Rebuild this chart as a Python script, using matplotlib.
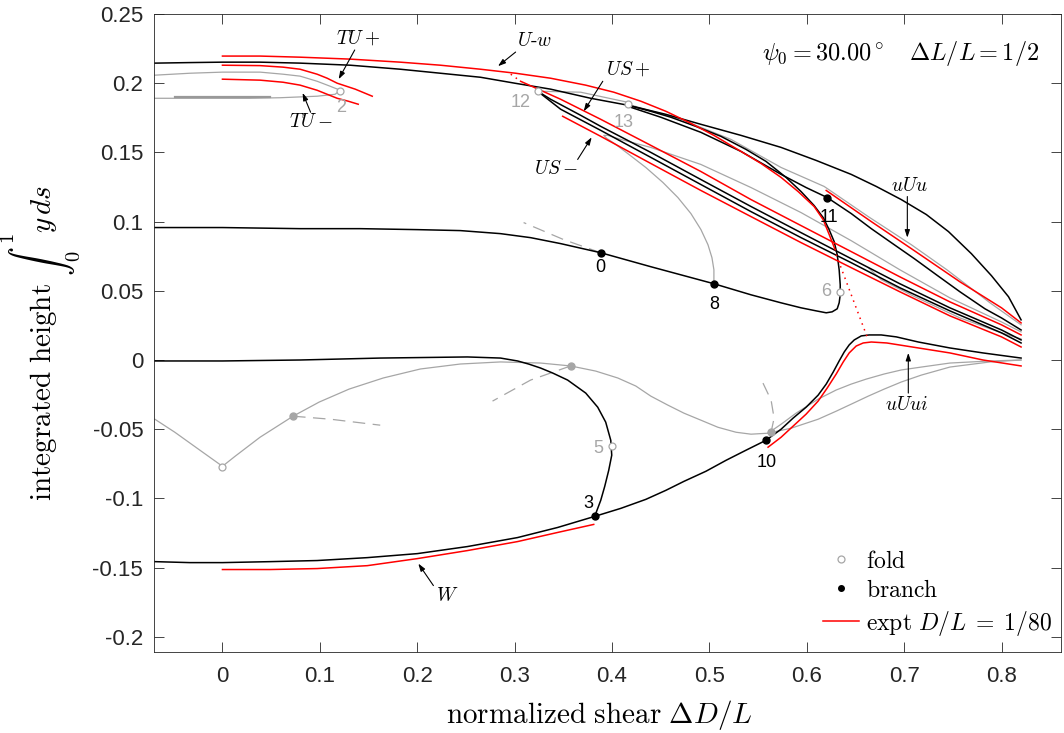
import matplotlib
matplotlib.use('Agg')
import matplotlib.pyplot as plt
from matplotlib.lines import Line2D

plt.rcParams['mathtext.fontset'] = 'cm'
plt.rcParams['axes.unicode_minus'] = False
plt.rcParams['font.family'] = ['Liberation Sans', 'DejaVu Sans']

# ---------------- solution branches: shear dD/L vs integrated height ----------------
# U-w branch (black) and its experiment (red)
uw_x = [-0.0694, -0.0334, 0, 0.0386, 0.0797, 0.1312, 0.1826, 0.2238, 0.2649, 0.3010, 0.3369,
        0.3781, 0.4162, 0.4553, 0.4912, 0.5324, 0.5736, 0.6096, 0.6456, 0.6713, 0.6970, 0.7227,
        0.7454, 0.7690, 0.7896, 0.8071, 0.82]
uw_y = [0.2145, 0.2149, 0.2152, 0.2152, 0.2145, 0.2130, 0.2101, 0.2072, 0.2043, 0.1999, 0.1957,
        0.1891, 0.1841, 0.1775, 0.1703, 0.1623, 0.1536, 0.1442, 0.1341, 0.1254, 0.1159, 0.1051,
        0.0928, 0.0768, 0.0609, 0.0457, 0.0290]
uw_ex_x = [0, 0.0386, 0.0797, 0.1312, 0.1826, 0.2238, 0.2649, 0.3010, 0.3369, 0.3729, 0.4018,
           0.4295, 0.4553, 0.4810, 0.5046, 0.5324, 0.5530, 0.5736, 0.5911, 0.6075, 0.6168, 0.6230, 0.6291]
uw_ex_y = [0.2196, 0.2196, 0.2188, 0.2174, 0.2152, 0.2130, 0.2101, 0.2072, 0.2036, 0.1986, 0.1935,
           0.1870, 0.1797, 0.1710, 0.1623, 0.1507, 0.1420, 0.1319, 0.1217, 0.1109, 0.1014, 0.0906, 0.0797]
uw_jump_x = [0.6301, 0.6631]
uw_jump_y = [0.0761, 0.0145]

# branch through points 0 and 8, looping back up to fold 13
b08_x = [-0.0694, 0, 0.0797, 0.1414, 0.2001, 0.2443, 0.2855, 0.3164, 0.3472, 0.3884, 0.4398,
         0.5046, 0.5427, 0.5736, 0.5941, 0.6096, 0.6199, 0.6260, 0.6312, 0.6332, 0.6343, 0.6343,
         0.6332, 0.6312, 0.6281, 0.6229, 0.6168, 0.6075, 0.5941, 0.5787, 0.5581, 0.5375, 0.5118,
         0.4861, 0.4604, 0.4398, 0.4162]
b08_y = [0.0957, 0.0957, 0.0949, 0.0949, 0.0942, 0.0935, 0.0913, 0.0884, 0.0841, 0.0775, 0.0674,
         0.0551, 0.0471, 0.0413, 0.0377, 0.0355, 0.0341, 0.0348, 0.0370, 0.0413, 0.0471, 0.0543,
         0.0652, 0.0761, 0.0855, 0.0942, 0.1029, 0.1116, 0.1217, 0.1319, 0.1435, 0.1522, 0.1616,
         0.1688, 0.1754, 0.1797, 0.1841]

# uUu branch: fold 13 -> point 11 -> end
uuu_x = [0.4162, 0.4501, 0.4912, 0.5324, 0.5736, 0.5993, 0.6209, 0.6456, 0.6662, 0.6867, 0.7104,
         0.7330, 0.7572, 0.7829, 0.7999, 0.82]
uuu_y = [0.1833, 0.1754, 0.1645, 0.1507, 0.1341, 0.1246, 0.1174, 0.1058, 0.0949, 0.0848, 0.0732,
         0.0616, 0.0493, 0.0370, 0.0304, 0.0217]
uuu_ex_x = [0.6199, 0.6662, 0.7089, 0.7572, 0.7999, 0.82]
uuu_ex_y = [0.1225, 0.1000, 0.0797, 0.0565, 0.0377, 0.0268]
uuu_gr_x = [0.4162, 0.4707, 0.5221, 0.5736, 0.6178, 0.6631, 0.7073, 0.7438, 0.7881, 0.82]
uuu_gr_y = [0.1848, 0.1739, 0.1594, 0.1391, 0.1254, 0.1036, 0.0833, 0.0652, 0.0413, 0.0254]
f12_13_x = [0.3236, 0.3678, 0.4162]
f12_13_y = [0.1942, 0.1935, 0.1862]

# US band
usp_ex_x = [0.3061, 0.3472, 0.3884, 0.4398, 0.4912, 0.5427, 0.5941, 0.6456, 0.6955, 0.7469, 0.7999, 0.82]
usp_ex_y = [0.2014, 0.1884, 0.1739, 0.1551, 0.1362, 0.1159, 0.0971, 0.0783, 0.0601, 0.0420, 0.0254, 0.0181]
usp_dot_x = [0.2960, 0.3061]
usp_dot_y = [0.2065, 0.2014]
usa_x = [0.3236, 0.3369, 0.3678, 0.3884, 0.4398, 0.4912, 0.5427, 0.5941, 0.6456, 0.6955, 0.7469, 0.7999, 0.82]
usa_y = [0.1942, 0.1884, 0.1768, 0.1688, 0.1500, 0.1304, 0.1109, 0.0920, 0.0732, 0.0551, 0.0377, 0.0217, 0.0145]
usb_x = [0.3236, 0.3472, 0.3884, 0.4398, 0.4912, 0.5427, 0.5941, 0.6456, 0.6955, 0.7469, 0.7999, 0.82]
usb_y = [0.1942, 0.1812, 0.1659, 0.1464, 0.1268, 0.1072, 0.0884, 0.0703, 0.0522, 0.0355, 0.0196, 0.0123]
usm_ex_x = [0.3493, 0.3884, 0.4398, 0.4912, 0.5427, 0.5941, 0.6456, 0.6955, 0.7469, 0.7999, 0.82]
usm_ex_y = [0.1761, 0.1616, 0.1420, 0.1225, 0.1036, 0.0848, 0.0667, 0.0493, 0.0319, 0.0167, 0.0094]
g8_x = [0.5046, 0.5046, 0.5026, 0.4985, 0.4913, 0.4810, 0.4676, 0.4522, 0.4347, 0.4172, 0.4038,
        0.3946, 0.3915, 0.3956, 0.4089, 0.4398, 0.4912, 0.5427, 0.5941, 0.6456, 0.6955, 0.7469,
        0.7999, 0.82]
g8_y = [0.0551, 0.0652, 0.0739, 0.0833, 0.0942, 0.1058, 0.1174, 0.1283, 0.1391, 0.1486, 0.1558,
        0.1601, 0.1623, 0.1623, 0.1594, 0.1536, 0.1413, 0.1246, 0.1065, 0.0862, 0.0652, 0.0449,
        0.0275, 0.0203]
glens_x = [0.6631, 0.6764, 0.7089, 0.7572, 0.7999, 0.82]
glens_y = [0.0667, 0.0580, 0.0464, 0.0304, 0.0196, 0.0152]

# TU loop near fold 2
tup_ex_x = [0, 0.0386, 0.0622, 0.0797, 0.0972, 0.1075, 0.1178, 0.1363, 0.1538]
tup_ex_y = [0.2130, 0.2127, 0.2116, 0.2101, 0.2065, 0.2036, 0.2000, 0.1957, 0.1906]
tum_ex_x = [0, 0.0386, 0.0622, 0.0797, 0.0972, 0.1075, 0.1178, 0.1291, 0.1394]
tum_ex_y = [0.2029, 0.2022, 0.2007, 0.1986, 0.1949, 0.1920, 0.1891, 0.1870, 0.1848]
tu_gr_x = [-0.0694, -0.0334, 0, 0.0386, 0.0622, 0.0797, 0.0972, 0.1106, 0.1209, 0.1157, 0.0972,
           0.0592, 0.0283, -0.0231, -0.0694]
tu_gr_y = [0.2058, 0.2072, 0.2080, 0.2080, 0.2065, 0.2051, 0.2014, 0.1978, 0.1949, 0.1920, 0.1906,
           0.1895, 0.1891, 0.1891, 0.1891]
tu_dark_x = [-0.0489, 0.0489]
tu_dark_y = [0.1897, 0.1897]

# near-zero branch curling down to point 3
z_x = [-0.0694, 0, 0.0797, 0.1620, 0.2515, 0.2855, 0.3030, 0.3143, 0.3266, 0.3390, 0.3544,
       0.3730, 0.3853, 0.3935, 0.3987, 0.3997, 0.3966, 0.3925, 0.3884, 0.3822]
z_y = [-0.0007, -0.0007, 0, 0.0014, 0.0022, 0.0014, -0.0007, -0.0029, -0.0058, -0.0094, -0.0145,
       -0.0239, -0.0341, -0.0449, -0.0580, -0.0688, -0.0797, -0.0913, -0.1014, -0.1130]

# W branch through 3 and 10, continuing as uUui
w_x = [-0.0694, -0.0334, 0, 0.0489, 0.0972, 0.1487, 0.2001, 0.2515, 0.3030, 0.3442, 0.3822,
       0.4090, 0.4347, 0.4552, 0.4738, 0.4964, 0.5170, 0.5375, 0.5581, 0.5736, 0.5859, 0.5993,
       0.6116, 0.6199, 0.6271, 0.6332, 0.6384, 0.6435, 0.6487, 0.6559, 0.6641, 0.6764, 0.6919,
       0.7145, 0.7469, 0.7809, 0.82]
w_y = [-0.1457, -0.1464, -0.1464, -0.1457, -0.1449, -0.1428, -0.1399, -0.1348, -0.1283, -0.1210, -0.1130,
       -0.1072, -0.1007, -0.0942, -0.0877, -0.0804, -0.0725, -0.0652, -0.0580, -0.0500, -0.0420, -0.0341,
       -0.0254, -0.0174, -0.0087, -0.0007, 0.0058, 0.0109, 0.0145, 0.0174, 0.0181, 0.0181, 0.0167,
       0.0130, 0.0087, 0.0051, 0.0014]
w_ex_x = [0, 0.0489, 0.0972, 0.1487, 0.2001, 0.2515, 0.3030, 0.3442, 0.3812]
w_ex_y = [-0.1514, -0.1514, -0.1507, -0.1486, -0.1435, -0.1377, -0.1312, -0.1246, -0.1188]
uuui_ex_x = [0.5602, 0.5736, 0.5859, 0.5993, 0.6116, 0.6209, 0.6302, 0.6374, 0.6435, 0.6507, 0.6579,
             0.6662, 0.6821, 0.7145, 0.7469, 0.7809, 0.82]
uuui_ex_y = [-0.0630, -0.0558, -0.0478, -0.0391, -0.0297, -0.0203, -0.0101, -0.0014, 0.0051, 0.0101, 0.0123,
             0.0130, 0.0123, 0.0087, 0.0051, 0.0, -0.0043]

# grey unstable branch along the bottom
gb_x = [-0.0694, -0.0489, -0.0231, 0, 0.0129, 0.0386, 0.0725, 0.0993, 0.1301, 0.1651, 0.2032,
        0.2443, 0.2855, 0.3266, 0.3575, 0.3832, 0.4059, 0.4244, 0.4398, 0.4573, 0.4738, 0.4913,
        0.5087, 0.5273, 0.5427, 0.5602]
gb_y = [-0.0428, -0.0522, -0.0652, -0.0768, -0.0696, -0.0558, -0.0406, -0.0304, -0.0210, -0.0130, -0.0065,
        -0.0029, -0.0014, -0.0022, -0.0043, -0.0080, -0.0130, -0.0188, -0.0261, -0.0326, -0.0384, -0.0435,
        -0.0486, -0.0522, -0.0536, -0.0529]
gbu_x = [0.5602, 0.5736, 0.5890, 0.6116, 0.6301, 0.6456, 0.6610, 0.6795, 0.6970, 0.7176, 0.7469, 0.7881, 0.82]
gbu_y = [-0.0529, -0.0464, -0.0384, -0.0283, -0.0217, -0.0174, -0.0138, -0.0101, -0.0072, -0.0051, -0.0022, -0.0007, 0.0]
gbl_x = [0.5602, 0.5838, 0.6116, 0.6301, 0.6456, 0.6631, 0.6795, 0.6970, 0.7176, 0.7469, 0.7881, 0.82]
gbl_y = [-0.0529, -0.0493, -0.0428, -0.0370, -0.0319, -0.0261, -0.0210, -0.0159, -0.0109, -0.0051, -0.0014, 0.0]

# dashed grey side branches
d1_x, d1_y = [0.0725, 0.1111, 0.1620], [-0.0406, -0.0428, -0.0471]
d2_x, d2_y = [0.3575, 0.3164, 0.2773], [-0.0043, -0.0145, -0.0297]
d3_x, d3_y = [0.5550, 0.5633, 0.5664, 0.5633], [-0.0167, -0.0290, -0.0420, -0.0522]
d4_x, d4_y = [0.3884, 0.3503, 0.3092], [0.0775, 0.0870, 0.0993]

# special points
fold_x = [0.1209, 0.3236, 0.4162, 0.6340, 0.3997, 0]
fold_y = [0.1942, 0.1942, 0.1848, 0.0493, -0.0623, -0.0775]
fold_lbl = ['2', '12', '13', '6', '5', '']
branch_x = [0.3884, 0.5046, 0.3822, 0.5581, 0.6209]
branch_y = [0.0775, 0.0551, -0.1130, -0.0580, 0.1174]
branch_lbl = ['0', '8', '3', '10', '11']
gdot_x = [0.0725, 0.3575, 0.5633]
gdot_y = [-0.0406, -0.0043, -0.0522]

BLACK = 'k'
RED = '#ff0000'
GREY = '#a6a6a6'
AXC = '#262626'

fig = plt.figure(figsize=(10.64, 7.33), dpi=100)
ax = fig.add_axes([0.1450, 0.1101, 0.8522, 0.8708])

# grey (unstable) curves
for xs, ys in [(uuu_gr_x, uuu_gr_y), (f12_13_x, f12_13_y), (g8_x, g8_y), (glens_x, glens_y),
               (tu_gr_x, tu_gr_y), (gb_x, gb_y), (gbu_x, gbu_y), (gbl_x, gbl_y)]:
    ax.plot(xs, ys, color=GREY, lw=0.9, zorder=1, solid_joinstyle='round')
ax.plot(tu_dark_x, tu_dark_y, color='#999999', lw=1.6, zorder=1)
for xs, ys in [(d1_x, d1_y), (d2_x, d2_y), (d3_x, d3_y), (d4_x, d4_y)]:
    ax.plot(xs, ys, color=GREY, lw=0.9, dashes=(10, 6), zorder=1)

# stable branches
for xs, ys in [(uw_x, uw_y), (b08_x, b08_y), (uuu_x, uuu_y), (usa_x, usa_y), (usb_x, usb_y),
               (z_x, z_y), (w_x, w_y)]:
    ax.plot(xs, ys, color=BLACK, lw=1.1, zorder=2, solid_joinstyle='round')

# experiments
for xs, ys in [(uw_ex_x, uw_ex_y), (uuu_ex_x, uuu_ex_y), (usp_ex_x, usp_ex_y), (usm_ex_x, usm_ex_y),
               (tup_ex_x, tup_ex_y), (tum_ex_x, tum_ex_y), (w_ex_x, w_ex_y), (uuui_ex_x, uuui_ex_y)]:
    ax.plot(xs, ys, color=RED, lw=1.1, zorder=3, solid_joinstyle='round')
ax.plot(uw_jump_x, uw_jump_y, color=RED, lw=1.1, ls=(0, (1, 3)), zorder=3)
ax.plot(usp_dot_x, usp_dot_y, color=RED, lw=1.1, ls=(0, (1, 3)), zorder=3)

# folds and branch points
ax.plot(fold_x, fold_y, 'o', mfc='white', mec=GREY, mew=0.9, ms=5, ls='none', zorder=4)
ax.plot(gdot_x, gdot_y, 'o', color=GREY, ms=5, ls='none', zorder=4)
ax.plot(branch_x, branch_y, 'o', color=BLACK, ms=5, ls='none', zorder=5)

fold_off = {'2': (0.001, -0.012), '12': (-0.017, -0.008), '13': (-0.004, -0.013),
            '6': (-0.014, 0.0), '5': (-0.014, -0.002)}
for x, y, s in zip(fold_x, fold_y, fold_lbl):
    if s:
        dx, dy = fold_off[s]
        ax.text(x + dx, y + dy, s, color=GREY, fontsize=13, ha='center', va='center')
branch_off = {'0': (0.0, -0.011), '8': (0.0, -0.015), '3': (-0.007, 0.0095),
              '10': (0.001, -0.016), '11': (0.002, -0.0145)}
for x, y, s in zip(branch_x, branch_y, branch_lbl):
    dx, dy = branch_off[s]
    ax.text(x + dx, y + dy, s, color=BLACK, fontsize=13, ha='center', va='center')

# branch names with arrows
names = [
    (r'$TU+$', (0.1389, 0.2327), (0.1358, 0.2240), (0.1193, 0.2029)),
    (r'$TU-$', (0.0905, 0.1717), (0.0905, 0.1790), (0.0823, 0.1930)),
    (r'$U$-$w$', (0.3200, 0.2304), (0.3010, 0.2225), (0.2829, 0.2123)),
    (r'$US+$', (0.4162, 0.2101), (0.3905, 0.2014), (0.3709, 0.1797)),
    (r'$US-$', (0.3421, 0.1377), (0.3647, 0.1449), (0.3791, 0.1609)),
    (r'$uUu$', (0.7053, 0.1254), (0.7032, 0.1181), (0.7032, 0.0884)),
    (r'$uUui$', (0.7022, -0.0326), (0.7042, -0.0239), (0.7042, 0.0051)),
    (r'$W$', (0.2309, -0.1703), (0.2166, -0.1630), (0.2011, -0.1471)),
]
for s, pos, tail, tip in names:
    ax.text(pos[0], pos[1], s, fontsize=14, ha='center', va='center', family='cmr10')
    ax.annotate('', xy=tip, xytext=tail,
                arrowprops=dict(arrowstyle='-|>,head_length=0.45,head_width=0.15',
                                color='k', lw=0.8, shrinkA=0, shrinkB=0))

ax.text(0.839, 0.2215, r'$\psi_0 = 30.00^\circ\ \ \ \Delta L/L = 1/2$',
        fontsize=17.5, ha='right', va='center')

# axes styling
ax.set_xlim(-0.07, 0.861)
ax.set_ylim(-0.2112, 0.25)
ax.set_xticks([0, 0.1, 0.2, 0.3, 0.4, 0.5, 0.6, 0.7, 0.8])
ax.set_xticklabels(['0', '0.1', '0.2', '0.3', '0.4', '0.5', '0.6', '0.7', '0.8'])
ax.set_yticks([-0.2, -0.15, -0.1, -0.05, 0, 0.05, 0.1, 0.15, 0.2, 0.25])
ax.set_yticklabels(['-0.2', '-0.15', '-0.1', '-0.05', '0', '0.05', '0.1', '0.15', '0.2', '0.25'])
ax.tick_params(direction='in', length=7, width=0.6, color=AXC, labelcolor=AXC,
               labelsize=16, top=True, right=True)
ax.tick_params(axis='y', pad=8)
ax.tick_params(axis='x', pad=10)
for sp in ax.spines.values():
    sp.set_color(AXC)
    sp.set_linewidth(0.6)

ax.set_xlabel(r'$\mathrm{normalized\ shear}\ \Delta D/L$', fontsize=21)
ax.set_ylabel(r'$\mathrm{integrated\ height}\ \int_0^1 y\,ds$', fontsize=21)
ax.xaxis.set_label_coords(0.4905, -0.072)
ax.yaxis.set_label_coords(-0.080, 0.4846)

handles = [
    Line2D([], [], marker='o', mfc='white', mec=GREY, mew=0.9, ms=5, ls='none'),
    Line2D([], [], marker='o', color=BLACK, ms=4, ls='none'),
    Line2D([], [], color=RED, lw=1.1),
]
labels = [r'$\mathrm{fold}$', r'$\mathrm{branch}$', r'$\mathrm{expt}\ D/L\;=\;1/80$']
ax.legend(handles, labels, loc='lower right', bbox_to_anchor=(1.0, 0.008), frameon=False,
          fontsize=17, handlelength=1.5, handletextpad=0.3, labelspacing=0.3, borderaxespad=0.0)

fig.savefig('out.png', dpi=100)
